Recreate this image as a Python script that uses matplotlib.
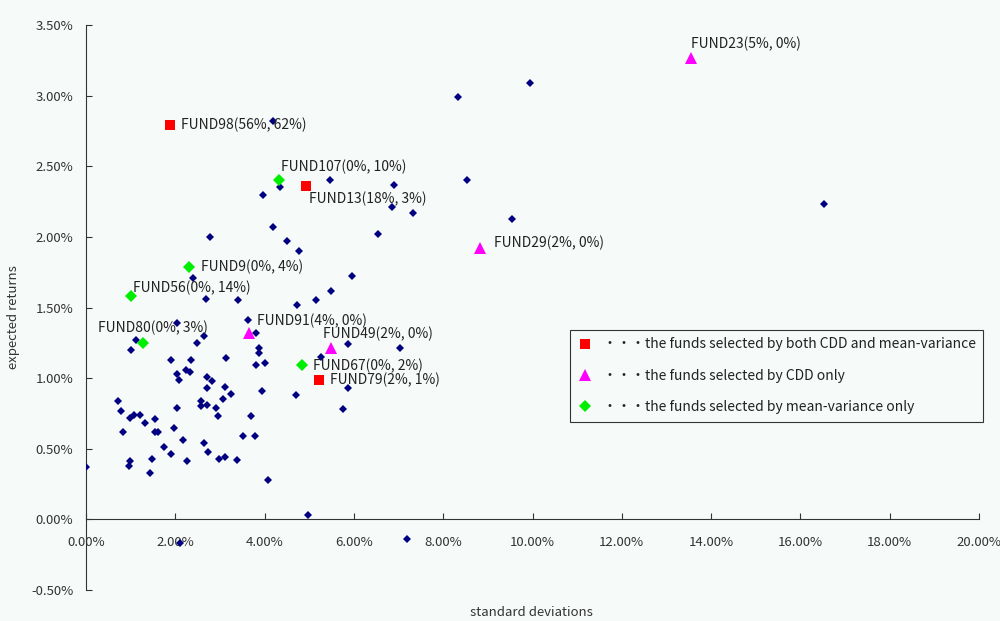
import matplotlib
matplotlib.use('Agg')
import matplotlib.pyplot as plt
from matplotlib.ticker import FuncFormatter, MultipleLocator

plt.rcParams['font.family'] = ['Noto Sans CJK JP', 'DejaVu Sans']

# all other funds: standard deviation (%) and expected return (%)
other_sd = [0.00, 2.69, 3.41, 4.73, 5.15, 5.48, 2.04, 2.64, 2.48, 1.00,
            1.11, 3.62, 3.80, 3.87, 3.87, 3.81, 4.02, 5.27, 1.90, 2.36,
            3.14, 2.04, 2.23, 2.32, 2.09, 2.71, 2.82, 2.71, 3.12, 3.24,
            3.95, 4.70, 3.07, 2.58, 2.57, 2.71, 0.72, 0.78, 2.04, 2.92,
            0.99, 1.08, 1.22, 1.55, 1.33, 2.95, 3.70, 0.82, 1.55, 1.62,
            1.97, 3.52, 3.78, 2.17, 2.64, 1.75, 2.74, 1.90, 1.47, 0.99,
            0.97, 2.26, 2.98, 3.12, 3.38, 1.43, 4.08, 4.97, 4.19, 4.35,
            5.46, 3.96, 4.18, 2.78, 4.51, 4.77, 2.39, 6.89, 8.53, 6.85,
            7.32, 9.53, 6.54, 5.96, 5.87, 7.04, 5.87, 5.75, 7.18, 2.11,
            9.94, 8.33, 16.53]
other_ret = [0.37, 1.56, 1.55, 1.52, 1.55, 1.62, 1.39, 1.30, 1.25, 1.20,
             1.27, 1.41, 1.32, 1.21, 1.18, 1.09, 1.11, 1.15, 1.13, 1.13,
             1.14, 1.03, 1.06, 1.04, 0.99, 1.01, 0.98, 0.93, 0.94, 0.89,
             0.91, 0.88, 0.85, 0.84, 0.80, 0.81, 0.84, 0.77, 0.79, 0.79,
             0.72, 0.74, 0.74, 0.71, 0.68, 0.73, 0.73, 0.62, 0.62, 0.62,
             0.65, 0.59, 0.59, 0.56, 0.54, 0.51, 0.48, 0.46, 0.43, 0.41,
             0.38, 0.41, 0.43, 0.44, 0.42, 0.33, 0.28, 0.03, 2.82, 2.35,
             2.40, 2.30, 2.07, 2.00, 1.97, 1.90, 1.71, 2.37, 2.40, 2.21,
             2.17, 2.13, 2.02, 1.72, 1.24, 1.21, 0.93, 0.78, -0.14, -0.17,
             3.09, 2.99, 2.23]

# selected by both CDD and mean-variance
both_names = ['FUND98(56%, 62%)', 'FUND13(18%, 3%)', 'FUND79(2%, 1%)']
both_sd = [1.89, 4.93, 5.21]
both_ret = [2.79, 2.36, 0.99]

# selected by CDD only
cdd_names = ['FUND23(5%, 0%)', 'FUND29(2%, 0%)', 'FUND91(4%, 0%)', 'FUND49(2%, 0%)']
cdd_sd = [13.55, 8.83, 3.66, 5.49]
cdd_ret = [3.27, 1.92, 1.32, 1.21]

# selected by mean-variance only
mv_names = ['FUND107(0%, 10%)', 'FUND9(0%, 4%)', 'FUND56(0%, 14%)',
            'FUND80(0%, 3%)', 'FUND67(0%, 2%)']
mv_sd = [4.33, 2.31, 1.00, 1.28, 4.84]
mv_ret = [2.40, 1.79, 1.58, 1.25, 1.09]

# where each data label sits relative to its marker (points, ha)
label_pos = {
    'FUND98(56%, 62%)': (8, 0, 'left'),
    'FUND13(18%, 3%)': (2, -9.5, 'left'),
    'FUND79(2%, 1%)': (8.5, 0, 'left'),
    'FUND23(5%, 0%)': (0, 10, 'left'),
    'FUND29(2%, 0%)': (10, 3.5, 'left'),
    'FUND91(4%, 0%)': (5.5, 8.5, 'left'),
    'FUND49(2%, 0%)': (-6, 10.5, 'left'),
    'FUND107(0%, 10%)': (1.5, 10, 'left'),
    'FUND9(0%, 4%)': (8.5, 0, 'left'),
    'FUND56(0%, 14%)': (2, 6, 'left'),
    'FUND80(0%, 3%)': (7, 11, 'center'),
    'FUND67(0%, 2%)': (8, 0, 'left'),
}

bg = '#f6faf9'
fig = plt.figure(figsize=(10, 6.21), dpi=100, facecolor=bg)
ax = fig.add_axes([0.086, 0.0499, 0.893, 0.9098], facecolor=bg)

ax.plot(other_sd, other_ret, 'D', color='#000080', markersize=3.6,
        markeredgewidth=0, zorder=3)
h_both, = ax.plot(both_sd, both_ret, 's', color='#ff0000', markersize=7,
                  markeredgewidth=0, zorder=4)
h_cdd, = ax.plot(cdd_sd, cdd_ret, '^', color='#ff00ff', markersize=9,
                 markeredgewidth=0, zorder=4)
h_mv, = ax.plot(mv_sd, mv_ret, 'D', color='#00ee00', markersize=6,
                markeredgewidth=0, zorder=4)

for names, xs, ys in [(both_names, both_sd, both_ret),
                      (cdd_names, cdd_sd, cdd_ret),
                      (mv_names, mv_sd, mv_ret)]:
    for name, x, y in zip(names, xs, ys):
        dx, dy, ha = label_pos[name]
        ax.annotate(name, (x, y), xytext=(dx, dy), textcoords='offset points',
                    ha=ha, va='center', fontsize=10, color='#222222', zorder=5)

ax.set_xlim(0, 20)
ax.set_ylim(-0.5, 3.5)
ax.xaxis.set_major_locator(MultipleLocator(2))
ax.yaxis.set_major_locator(MultipleLocator(0.5))
pct = FuncFormatter(lambda v, pos: '{:.2f}%'.format(v))
ax.xaxis.set_major_formatter(pct)
ax.yaxis.set_major_formatter(pct)

ax.spines['top'].set_visible(False)
ax.spines['right'].set_visible(False)
ax.spines['bottom'].set_position(('data', 0))
ax.spines['left'].set_position(('data', 0))
for s in ('bottom', 'left'):
    ax.spines[s].set_color('#333333')
    ax.spines[s].set_linewidth(0.8)

ax.tick_params(axis='x', direction='in', length=4, width=0.8, color='#333333',
               pad=12, labelsize=9.5, labelcolor='#333333')
ax.tick_params(axis='y', direction='in', length=4, width=0.8, color='#333333',
               pad=9, labelsize=9.5, labelcolor='#333333')

fig.text(0.014, 0.49, 'expected returns', rotation=90, ha='center', va='center',
         fontsize=9.5, color='#333333')
fig.text(0.531, 0.014, 'standard deviations', ha='center', va='center',
         fontsize=9.5, color='#333333')

leg = ax.legend([h_both, h_cdd, h_mv],
                ['・・・the funds selected by both CDD and mean-variance',
                 '・・・the funds selected by CDD only',
                 '・・・the funds selected by mean-variance only'],
                loc='upper left', bbox_to_anchor=(0.570, 0.469),
                bbox_transform=fig.transFigure, fontsize=10,
                fancybox=False, frameon=True, framealpha=1, facecolor=bg,
                edgecolor='#333333', labelspacing=1.25, handlelength=1.0,
                handletextpad=0.8, borderpad=0.55, borderaxespad=0,
                markerscale=1.0)
leg.get_frame().set_linewidth(0.8)
for t in leg.get_texts():
    t.set_color('#222222')

plt.savefig('out.png', dpi=100, facecolor=bg)
